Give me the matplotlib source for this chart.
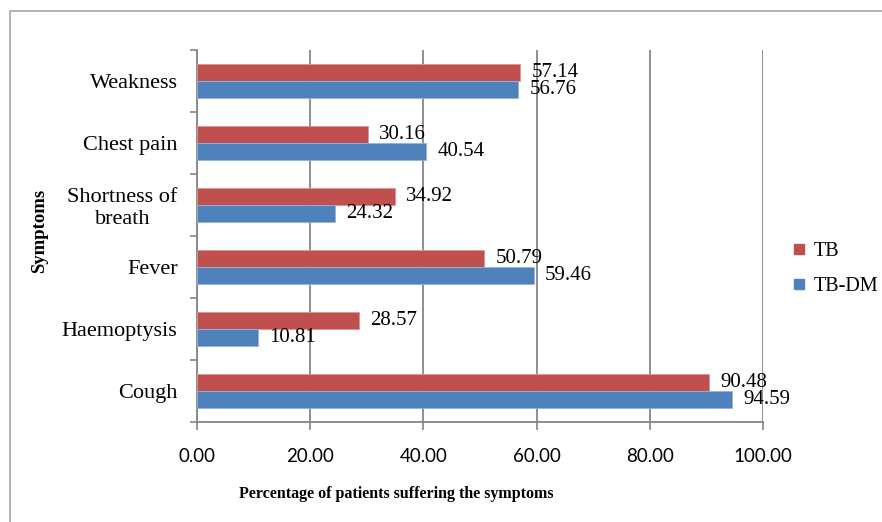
import matplotlib
matplotlib.use("Agg")
import matplotlib.pyplot as plt
from matplotlib.lines import Line2D
from matplotlib.patches import Rectangle
import numpy as np

# data, bottom to top as drawn
symptoms = ["Cough", "Haemoptysis", "Fever", "Shortness of\nbreath", "Chest pain", "Weakness"]
tb = [90.48, 28.57, 50.79, 34.92, 30.16, 57.14]
tb_dm = [94.59, 10.81, 59.46, 24.32, 40.54, 56.76]
x_ticks = [0, 20, 40, 60, 80, 100]

RED = "#C0504D"
BLUE = "#4F81BD"
GRID = "#868686"
SERIF = "Liberation Serif"

W, H = 882, 522
fig = plt.figure(figsize=(W / 100, H / 100), dpi=100)
fig.patch.set_facecolor("white")

# outer chart-area border (runs off the right and bottom edges)
fig.patches.append(Rectangle((10 / W, -0.2), 1.5, 1.2 - 11 / H, transform=fig.transFigure,
                             fill=False, edgecolor="#A6A6A6", linewidth=1.2))

ax = fig.add_axes([197 / W, 1 - 422 / H, (763 - 197) / W, (422 - 50) / H])

y = np.arange(len(symptoms))
bh = 0.28
ax.barh(y + bh / 2, tb, height=bh, color=RED, edgecolor="#D99694", linewidth=0.6, zorder=3)
ax.barh(y - bh / 2, tb_dm, height=bh, color=BLUE, edgecolor="#95B3D7", linewidth=0.6, zorder=3)

for yi, a, b in zip(y, tb, tb_dm):
    ax.annotate(f"{a:.2f}", xy=(a, yi + bh / 2), xytext=(8, 0), textcoords="offset points",
                va="center", ha="left", fontsize=15, family=SERIF, zorder=4)
    ax.annotate(f"{b:.2f}", xy=(b, yi - bh / 2), xytext=(8, 0), textcoords="offset points",
                va="center", ha="left", fontsize=15, family=SERIF, zorder=4)

ax.set_xlim(0, 100)
ax.set_ylim(-0.5, len(symptoms) - 0.5)

ax.set_xticks(x_ticks)
ax.set_xticklabels([f"{v:.2f}" for v in x_ticks], family="Lato", fontsize=13.5)
ax.tick_params(axis="x", length=6, width=1.2, color=GRID, pad=13)

ax.set_yticks(y)
ax.set_yticklabels(symptoms, family=SERIF, fontsize=16, ma="center")
ax.set_yticks(np.arange(-0.5, len(symptoms)), minor=True)
ax.tick_params(axis="y", which="major", length=0, pad=14)
ax.tick_params(axis="y", which="minor", length=5, width=1.2, color=GRID)

ax.grid(axis="x", color=GRID, linewidth=1.3, zorder=0)
ax.set_axisbelow(True)
for side in ["top", "right"]:
    ax.spines[side].set_visible(False)
for side in ["left", "bottom"]:
    ax.spines[side].set_color(GRID)
    ax.spines[side].set_linewidth(1.3)

fig.text(40 / W, 1 - 231 / H, "Symptoms", rotation=90, ha="center", va="center",
         family=SERIF, fontsize=13.5, fontweight="bold")
fig.text(396 / W, 1 - 494 / H, "Percentage of patients suffering the symptoms",
         ha="center", va="center", family=SERIF, fontsize=11.5, fontweight="bold")

handles = [Line2D([], [], marker="s", linestyle="none", color=RED, markersize=7.5),
           Line2D([], [], marker="s", linestyle="none", color=BLUE, markersize=7.5)]
fig.legend(handles, ["TB", "TB-DM"], loc="center left", bbox_to_anchor=(782 / W, 1 - 269 / H),
           frameon=False, prop={"family": SERIF, "size": 14.5}, handlelength=0.7,
           handletextpad=0.35, labelspacing=0.75, borderpad=0)

fig.savefig("out.png", dpi=100)
